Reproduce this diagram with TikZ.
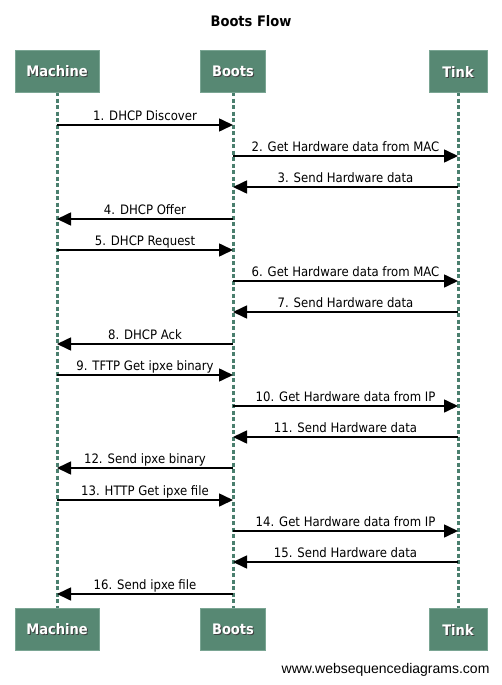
\documentclass[tikz,border=0pt]{standalone}
\usepackage{fontspec}
\setmainfont{DejaVu Sans Condensed}
\newfontfamily\wsdfont{Liberation Sans}
\usetikzlibrary{arrows.meta,calc}
\definecolor{boxfill}{HTML}{578873}
\definecolor{boxline}{HTML}{7AA593}
\definecolor{lifeline}{HTML}{4A7F6E}
\tikzset{
  actor/.style={draw=boxline, line width=1pt, fill=boxfill, minimum height=42pt, inner sep=0pt,
    text=white, anchor=north},
  actortext/.style={font=\fontsize{14.5}{16}\selectfont\bfseries},
  life/.style={draw=lifeline, line width=3pt, dash pattern=on 4pt off 2.5pt},
  msg/.style={draw=black, line width=1.6pt, -{Triangle[length=14pt,width=13pt]}},
  lbl/.style={font=\fontsize{13}{15}\selectfont, anchor=base, inner sep=0pt},
}
\begin{document}
\begin{tikzpicture}[x=1pt,y=-1pt]
\useasboundingbox (0,0) rectangle (502,685);
\fill[white] (0,0) rectangle (502,685);
\node[font=\fontsize{14.5}{16}\selectfont\bfseries] (title) at (251,21) {Boots Flow};
% lifelines
\coordinate (mt) at (57,92); \coordinate (mb) at (57,608);
\coordinate (bt) at (233,92); \coordinate (bb) at (233,608);
\coordinate (tt) at (458,92); \coordinate (tb) at (458,608);
\draw[life] (mt) -- (mb);
\draw[life] (bt) -- (bb);
\draw[life] (tt) -- (tb);
% actor boxes
\foreach \nm/\x/\w/\t in {m/57/84/Machine, b/233/65/Boots, t/458/58/Tink}{
  \node[actor, minimum width=\w pt] (\nm top) at (\x,50) {};
  \node[actortext, text=black!75] at ([xshift=1pt,yshift=-1pt]\nm top.center) {\t};
  \node[actortext, text=white] (\nm toplbl) at (\nm top.center) {\t};
  \node[actor, minimum width=\w pt] (\nm bot) at (\x,608) {};
  \node[actortext, text=black!75] at ([xshift=1pt,yshift=-1pt]\nm bot.center) {\t};
  \node[actortext, text=white] (\nm botlbl) at (\nm bot.center) {\t};
}
% messages: from x, to x, y, label
\foreach \i/\a/\b/\y/\t in {
  1/57/233/125/{1. DHCP Discover},
  2/233/458/156/{2. Get Hardware data from MAC},
  3/458/233/187/{3. Send Hardware data},
  4/233/57/219/{4. DHCP Offer},
  5/57/233/250/{5. DHCP Request},
  6/233/458/281/{6. Get Hardware data from MAC},
  7/458/233/312/{7. Send Hardware data},
  8/233/57/344/{8. DHCP Ack},
  9/57/233/375/{9. TFTP Get ipxe binary},
  10/233/458/406/{10. Get Hardware data from IP},
  11/458/233/437/{11. Send Hardware data},
  12/233/57/468/{12. Send ipxe binary},
  13/57/233/500/{13. HTTP Get ipxe file},
  14/233/458/531/{14. Get Hardware data from IP},
  15/458/233/562/{15. Send Hardware data},
  16/233/57/594/{16. Send ipxe file}}{
  \coordinate (s\i) at (\a,\y);
  \coordinate (e\i) at (\b,\y);
  \draw[msg] (s\i) -- (e\i);
  \node[lbl] (l\i) at ($(s\i)!0.5!(e\i)+(0,-5)$) {\t};
}
\node[font=\wsdfont\fontsize{14}{16}\selectfont, anchor=east] (wsd) at (493,670) {www.websequencediagrams.com};
\end{tikzpicture}
\end{document}
